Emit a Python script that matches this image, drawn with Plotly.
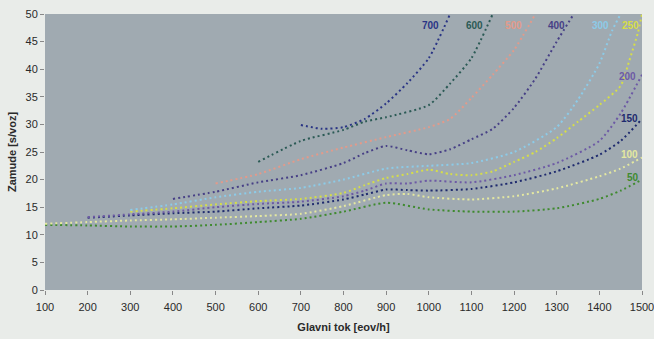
import plotly.graph_objects as go

# secondary-flow series (label, colour, x values, delay values)
labels = ["50", "100", "150", "200", "250", "300", "400", "500", "600", "700"]
colors = ["#3f8a2f", "#e4e8a0", "#1e2a6e", "#6d5aa5", "#d6de48", "#8ccbe8",
          "#474086", "#e39a8a", "#2b5a55", "#2a3585"]

x50 = [100, 200, 300, 400, 500, 600, 700, 800, 900, 1000, 1100, 1200, 1300, 1400, 1450, 1500]
y50 = [11.8, 11.7, 11.5, 11.5, 11.8, 12.3, 12.9, 14.2, 15.8, 14.6, 14.2, 14.2, 14.8, 16.5, 18.0, 20.0]

x100 = [100, 200, 300, 400, 500, 600, 700, 800, 900, 950, 1000, 1100, 1200, 1300, 1400, 1450, 1500]
y100 = [12.0, 12.3, 12.6, 12.8, 13.1, 13.4, 13.8, 15.2, 17.2, 17.4, 16.8, 16.4, 17.0, 18.4, 20.6, 22.0, 24.0]

x150 = [200, 300, 400, 500, 600, 700, 800, 850, 900, 950, 1000, 1100, 1200, 1300, 1400, 1450, 1500]
y150 = [13.1, 13.5, 13.9, 14.2, 14.8, 15.3, 16.4, 17.3, 18.2, 18.1, 18.0, 18.3, 19.5, 21.5, 24.5, 27.0, 31.0]

x200 = [200, 300, 400, 500, 600, 700, 800, 850, 900, 950, 1000, 1100, 1200, 1300, 1400, 1450, 1500]
y200 = [13.2, 13.7, 14.2, 15.0, 15.6, 16.0, 17.0, 18.0, 19.3, 19.3, 19.8, 19.5, 20.8, 23.0, 27.0, 32.0, 39.0]

x250 = [300, 400, 500, 600, 700, 800, 850, 900, 950, 1000, 1050, 1100, 1150, 1200, 1250, 1300, 1350, 1400, 1450, 1470, 1490, 1500]
y250 = [14.2, 14.8, 15.5, 16.1, 16.5, 17.6, 19.0, 20.3, 21.0, 21.8, 21.0, 20.8, 21.5, 23.2, 25.0, 27.5, 30.5, 33.5, 37.0, 41.5, 46.5, 50.0]

x300 = [300, 400, 500, 600, 700, 800, 900, 1000, 1100, 1200, 1300, 1350, 1400, 1430, 1450]
y300 = [14.5, 15.5, 16.8, 17.8, 18.5, 20.0, 22.0, 22.5, 23.0, 25.0, 29.5, 34.5, 41.0, 47.0, 50.0]

x400 = [400, 500, 600, 700, 800, 850, 900, 950, 1000, 1050, 1100, 1150, 1200, 1250, 1300, 1340]
y400 = [16.5, 17.8, 19.5, 20.8, 23.0, 24.8, 26.1, 25.3, 24.6, 25.5, 27.3, 29.2, 33.0, 38.3, 45.0, 50.0]

x500 = [500, 600, 700, 800, 900, 1000, 1050, 1100, 1150, 1200, 1250]
y500 = [19.3, 21.0, 23.7, 25.8, 27.7, 29.5, 31.0, 34.8, 39.0, 43.5, 50.0]

x600 = [600, 700, 800, 850, 900, 1000, 1050, 1100, 1150]
y600 = [23.2, 27.0, 29.0, 30.5, 31.3, 33.5, 37.4, 42.0, 50.0]

x700 = [700, 750, 800, 850, 900, 950, 1000, 1050]
y700 = [29.9, 29.2, 29.5, 31.0, 33.8, 37.5, 42.0, 50.0]

xs = [x50, x100, x150, x200, x250, x300, x400, x500, x600, x700]
ys = [y50, y100, y150, y200, y250, y300, y400, y500, y600, y700]

# end-of-line label positions (data coordinates)
label_x = [1478, 1470, 1470, 1467, 1472, 1402, 1300, 1198, 1108, 1005]
label_y = [20.3, 24.5, 31.1, 38.7, 47.9, 47.9, 47.9, 47.9, 47.9, 47.9]

x_ticks = list(range(100, 1501, 100))
y_ticks = list(range(0, 51, 5))

fig = go.Figure()
for lab, col, xv, yv in zip(labels, colors, xs, ys):
    fig.add_trace(go.Scatter(x=xv, y=yv, mode="lines", name=lab,
                             line=dict(color=col, width=2, dash="2px,3px", shape="spline", smoothing=0.6),
                             showlegend=False, hoverinfo="skip"))

for lab, col, lx, ly in zip(labels, colors, label_x, label_y):
    fig.add_annotation(x=lx, y=ly, text="<b>%s</b>" % lab, showarrow=False,
                       font=dict(family="Liberation Sans, Arial", size=10, color=col))

fig.update_layout(
    width=654, height=339,
    margin=dict(l=45, r=12, t=14, b=49),
    paper_bgcolor="#e9ece9",
    plot_bgcolor="#a0aab1",
    font=dict(family="Liberation Sans, Arial", size=11, color="#2a2a2a"),
)
fig.update_xaxes(range=[100, 1500], tickvals=x_ticks, ticks="outside", ticklen=4,
                 tickcolor="#888888", showgrid=False, zeroline=False, automargin=False,
                 ticklabelstandoff=3, ticklabeloverflow="allow",
                 tickfont=dict(size=11, color="#2a2a2a"),
                 title=dict(text="<b>Glavni tok [eov/h]</b>", font=dict(size=11), standoff=11))
fig.update_yaxes(range=[0, 50], tickvals=y_ticks, ticks="outside", ticklen=4,
                 tickcolor="#888888", showgrid=False, zeroline=False, automargin=False,
                 ticklabeloverflow="allow",
                 tickfont=dict(size=11, color="#2a2a2a"),
                 title=dict(text="<b>Zamude [s/voz]</b>", font=dict(size=11), standoff=6))

fig.write_html("out.html")
